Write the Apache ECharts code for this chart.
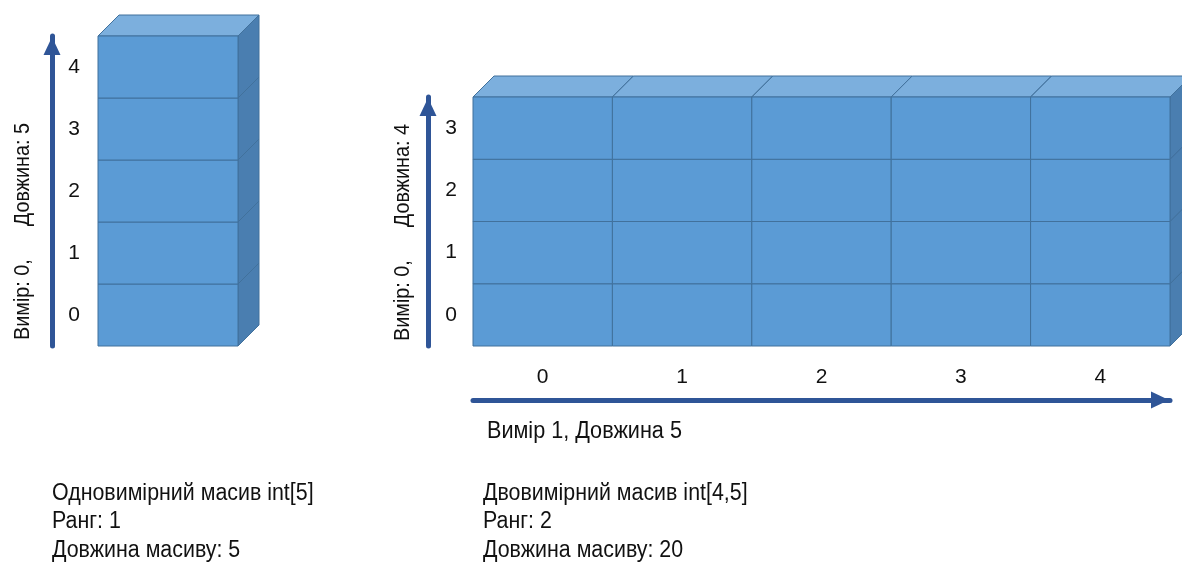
<!DOCTYPE html>
<html>
<head>
<meta charset="utf-8">
<title>Масиви</title>
<script src="https://cdn.jsdelivr.net/npm/echarts@6/dist/echarts.min.js"></script>
<style>
html, body { margin: 0; padding: 0; background: #fff; }
#chart { width: 1182px; height: 564px; }
</style>
</head>
<body>
<div id="chart"></div>
<script>
// індекси комірок
var oneDimIndex = ['0', '1', '2', '3', '4'];
var rowIndex = ['0', '1', '2', '3'];
var colIndex = ['0', '1', '2', '3', '4'];

// комірки: [стовпець, рядок], знизу вгору, зліва направо
var oneDimCells = [[0, 0], [0, 1], [0, 2], [0, 3], [0, 4]];
var twoDimCells = [
    [0, 0], [1, 0], [2, 0], [3, 0], [4, 0],
    [0, 1], [1, 1], [2, 1], [3, 1], [4, 1],
    [0, 2], [1, 2], [2, 2], [3, 2], [4, 2],
    [0, 3], [1, 3], [2, 3], [3, 3], [4, 3]
];

var oneDimTitle = 'Вимір: 0,      Довжина: 5';
var twoDimTitle = 'Вимір: 0,      Довжина: 4';
var dimOneTitle = 'Вимір 1, Довжина 5';
var oneDimInfo = ['Одновимірний масив int[5]', 'Ранг: 1', 'Довжина масиву: 5'];
var twoDimInfo = ['Двовимірний масив int[4,5]', 'Ранг: 2', 'Довжина масиву: 20'];

var FONT = '"Liberation Sans", Arial, sans-serif';
var FRONT = '#5b9bd5', TOP = '#7cafdd', SIDE = '#4a7eb0', EDGE = '#41719c', ARROW = '#2f5597';
var DEPTH = 21;

function cube(params, api) {
    var c = api.coord([api.value(0), api.value(1)]);
    var s = api.size([1, 1]);
    var x0 = c[0] - s[0] / 2, x1 = c[0] + s[0] / 2;
    var y0 = c[1] - s[1] / 2, y1 = c[1] + s[1] / 2;
    var edge = { stroke: EDGE, lineWidth: 1 };
    return {
        type: 'group',
        children: [
            { type: 'polygon',
              shape: { points: [[x0, y0], [x1, y0], [x1 + DEPTH, y0 - DEPTH], [x0 + DEPTH, y0 - DEPTH]] },
              style: Object.assign({ fill: TOP }, edge) },
            { type: 'polygon',
              shape: { points: [[x1, y0], [x1 + DEPTH, y0 - DEPTH], [x1 + DEPTH, y1 - DEPTH], [x1, y1]] },
              style: Object.assign({ fill: SIDE }, edge) },
            { type: 'rect',
              shape: { x: x0, y: y0, width: s[0], height: s[1] },
              style: Object.assign({ fill: FRONT }, edge) }
        ]
    };
}

// текст, трохи стиснутий по ширині (під Arial Narrow)
function label(x, y, text, rot, size, narrow, extra) {
    return {
        type: 'text', x: x, y: y, rotation: rot, scaleX: narrow,
        style: Object.assign({ text: text, fontSize: size, fontFamily: FONT, fill: '#111',
                               textAlign: 'left', textVerticalAlign: 'middle' }, extra || {})
    };
}

var labelStyle = { color: '#111', fontSize: 21, fontFamily: FONT };
var arrowLine = {
    show: true,
    symbol: ['none', 'triangle'],
    symbolSize: [17, 18],
    symbolOffset: [0, -10],
    lineStyle: { color: ARROW, width: 5 }
};
var hidden = { show: false };

var chart = echarts.init(document.getElementById('chart'));
chart.setOption({
    animation: false,
    grid: [
        { left: 98, top: 36, width: 140, height: 310 },
        { left: 473, top: 97, width: 697, height: 249 }
    ],
    xAxis: [
        { gridIndex: 0, type: 'category', data: [''], axisLine: hidden, axisTick: hidden, axisLabel: hidden },
        { gridIndex: 1, type: 'category', data: colIndex, position: 'bottom',
          axisLine: hidden, axisTick: hidden, axisLabel: Object.assign({ margin: 21 }, labelStyle) },
        { gridIndex: 1, type: 'category', data: colIndex, position: 'bottom', offset: 54,
          axisLine: arrowLine, axisTick: hidden, axisLabel: hidden }
    ],
    yAxis: [
        { gridIndex: 0, type: 'category', data: oneDimIndex, position: 'left',
          axisLine: hidden, axisTick: hidden,
          axisLabel: Object.assign({ margin: 24, align: 'center' }, labelStyle) },
        { gridIndex: 0, type: 'category', data: oneDimIndex, position: 'left', offset: 46,
          axisLine: arrowLine, axisTick: hidden, axisLabel: hidden },
        { gridIndex: 1, type: 'category', data: rowIndex, position: 'left',
          axisLine: hidden, axisTick: hidden,
          axisLabel: Object.assign({ margin: 22, align: 'center' }, labelStyle) },
        { gridIndex: 1, type: 'category', data: rowIndex, position: 'left', offset: 45,
          axisLine: arrowLine, axisTick: hidden, axisLabel: hidden }
    ],
    series: [
        { type: 'custom', xAxisIndex: 0, yAxisIndex: 0, renderItem: cube, data: oneDimCells, silent: true },
        { type: 'custom', xAxisIndex: 1, yAxisIndex: 2, renderItem: cube, data: twoDimCells, silent: true }
    ],
    graphic: [
        label(23, 340, oneDimTitle, Math.PI / 2, 22, 0.9),
        label(403, 341, twoDimTitle, Math.PI / 2, 22, 0.9),
        label(487, 432, dimOneTitle, 0, 23, 0.94),
        label(52, 479, oneDimInfo.join('\n'), 0, 23, 0.93, { lineHeight: 28.5, textVerticalAlign: 'top' }),
        label(483, 479, twoDimInfo.join('\n'), 0, 23, 0.93, { lineHeight: 28.5, textVerticalAlign: 'top' })
    ]
});
</script>
</body>
</html>
